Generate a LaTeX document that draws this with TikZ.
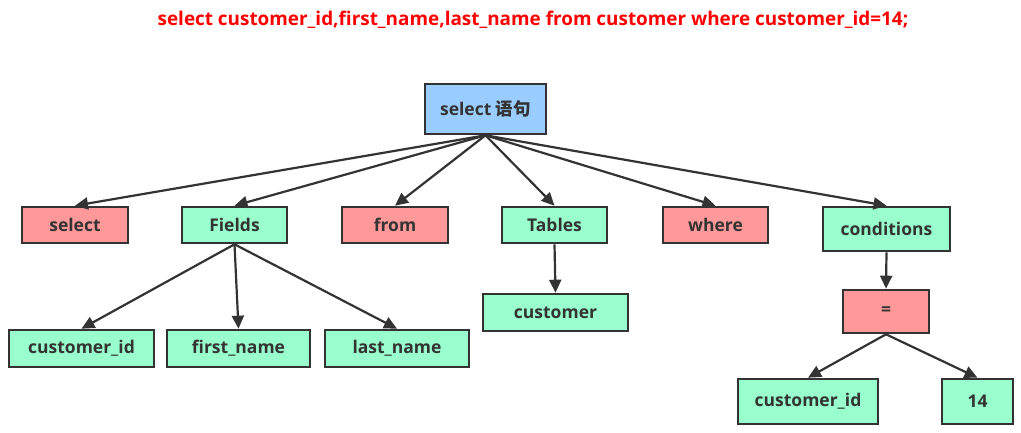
\documentclass[tikz,border=0pt]{standalone}
\usepackage{fontspec}
\setmainfont{Open Sans}
\newfontfamily\cjk{Noto Sans CJK SC}
\usetikzlibrary{arrows.meta}
\definecolor{txt}{HTML}{333333}
\definecolor{pinkfill}{HTML}{FF9999}
\definecolor{greenfill}{HTML}{99FFCC}
\definecolor{bluefill}{HTML}{99CCFF}
\begin{document}
\begin{tikzpicture}[x=1pt,y=-1pt,
  box/.style={draw=txt,line width=2.6pt,text=txt,font=\fontsize{17.5}{20}\selectfont\bfseries,inner sep=0pt,anchor=center},
  kw/.style={box,fill=pinkfill},
  gr/.style={box,fill=greenfill},
  bl/.style={box,fill=bluefill},
  arr/.style={draw=txt,line width=2.2pt,-{Triangle[length=13pt,width=12pt]}}]
\useasboundingbox (0,0) rectangle (1021,433);
\fill[white] (0,0) rectangle (1021,433);
\node[text=red,font=\fontsize{18.9}{22}\selectfont\bfseries] (title) at (533,20) {select customer\_id,first\_name,last\_name from customer where customer\_id=14;};
\node[bl,minimum width=121pt,minimum height=50pt] (root) at (485.5,109) {select {\cjk 语句}};
\node[kw,minimum width=106pt,minimum height=36pt] (sel) at (75,225) {select};
\node[gr,minimum width=105pt,minimum height=36pt] (fields) at (234.5,225) {Fields};
\node[kw,minimum width=106pt,minimum height=36pt] (from) at (395,225) {from};
\node[gr,minimum width=105pt,minimum height=36pt] (tables) at (554.5,225) {Tables};
\node[kw,minimum width=105pt,minimum height=36pt] (where) at (715.5,225) {where};
\node[gr,minimum width=127pt,minimum height=44pt] (cond) at (886.5,229) {conditions};
\node[gr,minimum width=145pt,minimum height=37pt] (cid) at (81.5,348.5) {customer\_id};
\node[gr,minimum width=143pt,minimum height=37pt] (fname) at (238.5,348.5) {first\_name};
\node[gr,minimum width=144pt,minimum height=37pt] (lname) at (397,348.5) {last\_name};
\node[gr,minimum width=145pt,minimum height=37pt] (cust) at (555.5,312.5) {customer};
\node[kw,minimum width=86pt,minimum height=43pt] (eq) at (886,311.5) {=};
\node[gr,minimum width=140pt,minimum height=45pt] (cid2) at (808,401.5) {customer\_id};
\node[gr,minimum width=71pt,minimum height=45pt] (num) at (977.5,401.5) {14};
\foreach \n in {sel,fields,from,tables,where,cond}
  \draw[arr] (root.south) -- (\n.north);
\foreach \n in {cid,fname,lname}
  \draw[arr] (fields.south) -- (\n.north);
\draw[arr] (tables.south) -- (cust.north);
\draw[arr] (cond.south) -- (eq.north);
\draw[arr] (eq.south) -- (cid2.north);
\draw[arr] (eq.south) -- (num.north);
\end{tikzpicture}
\end{document}
